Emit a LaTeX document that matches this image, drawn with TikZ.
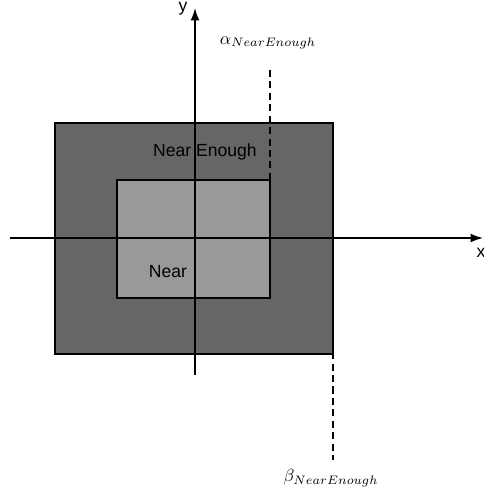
\documentclass[tikz,border=0pt]{standalone}
\usepackage{fontspec}
\setmainfont{Liberation Sans}
\usetikzlibrary{arrows.meta}
\begin{document}
\begin{tikzpicture}

	\def\ox{2.76}
	\def\oy{2.3}
	\def\ix{1.5}
	\def\iy{1.16}

	\useasboundingbox (-3.9,-5.14) rectangle (5.76,4.76);

	\filldraw[fill=black!60,line width=0.6pt] (-2.8,-2.32) rectangle (\ox,\oy);
	\filldraw[fill=black!40,line width=0.6pt] (-1.56,-1.2) rectangle (\ix,\iy);

	\draw[dash pattern=on 4pt off 2.5pt,line width=0.6pt] (\ix,3.36) -- (\ix,0);
	\draw[dash pattern=on 4pt off 2.5pt,line width=0.6pt] (\ox,0) -- (\ox,-4.44);

	\draw[-{Latex[length=7pt,width=5pt]},line width=0.8pt] (-3.7,0) -- (5.76,0) coordinate (xend);
	\draw[-{Latex[length=7pt,width=5pt]},line width=0.8pt] (0,-2.74) -- (0,4.6) coordinate (yend);

	\node[inner sep=1pt] (ylab) at (-0.24,4.58) {y};
	\node (xlab) at (5.72,-0.3) {x};

	\node (nearenough) at (0.2,1.72) {Near Enough};
	\node (near) at (-0.54,-0.68) {Near};

	\node (alpha) at (1.46,3.9) {$\alpha_{NearEnough}$};
	\node (beta) at (2.72,-4.8) {$\beta_{NearEnough}$};
\end{tikzpicture}
\end{document}
